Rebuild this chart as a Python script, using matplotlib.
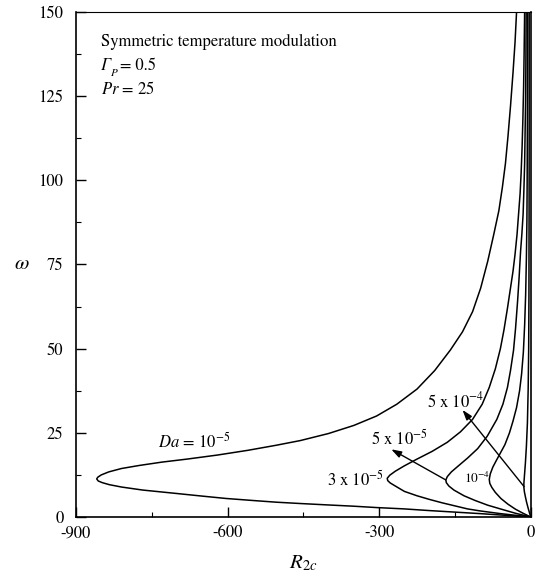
import matplotlib
matplotlib.use("Agg")
import matplotlib.pyplot as plt
from matplotlib.ticker import MultipleLocator

plt.rcParams['font.family'] = ['STIXGeneral', 'DejaVu Serif']
plt.rcParams['mathtext.fontset'] = 'stix'

# Da = 1e-5
R_da1 = [-28, -31, -35, -40, -45, -50, -56, -63, -73, -85, -99, -115, -135, -159, -190,
         -225, -265, -305, -350, -400, -456, -504, -560, -620, -680, -730, -775, -810,
         -835, -850, -857, -859, -856, -848, -834, -810, -768, -702, -650, -603, -550,
         -504, -456, -404, -350, -305, -250, -200, -150, -100, -50, 0]
w_da1 = [150, 141, 132, 122, 113, 105, 98, 91, 84, 76, 68, 61, 55, 49.6, 43.5,
         38, 33.5, 30, 27.2, 24.8, 22.7, 21.3, 19.8, 18.4, 17.2, 16.3, 15.3, 14.4,
         13.4, 12.5, 11.8, 11.3, 10.7, 10.2, 9.6, 8.9, 8.0, 7.0, 6.2, 5.5, 4.9,
         4.4, 4.0, 3.6, 3.2, 2.8, 2.4, 1.9, 1.45, 1.0, 0.5, 0]
# Da = 3e-5
R_da3 = [-12, -13, -14, -15.5, -17, -19, -21, -24, -27, -31, -35, -40, -46, -53, -60,
         -70, -82, -96, -115, -139, -165, -195, -225, -250, -268, -279, -284, -283,
         -278, -268, -250, -225, -200, -175, -150, -125, -100, -60, -30, 0]
w_da3 = [150, 138, 128, 118, 110, 102, 96, 90, 84, 78, 73, 68, 62, 55.5, 50,
         44, 38.5, 33.5, 29, 25.3, 22.2, 19.5, 17.2, 15.2, 13.6, 12.4, 11.5, 10.8,
         10.1, 9.2, 7.6, 6.3, 5.2, 4.2, 3.3, 2.4, 1.8, 1.0, 0.5, 0]
# Da = 5e-5
R_da5 = [-9, -9.5, -10, -11, -12, -13.5, -15, -17.5, -20, -23, -26, -30, -34, -40, -46,
         -55, -67, -86, -105, -125, -143, -157, -165, -168, -167, -162, -152, -132,
         -110, -85, -60, -30, 0]
w_da5 = [150, 135, 125, 115, 105, 97, 90, 84, 79, 71, 64, 56, 49.5, 43.5, 38.5,
         33.5, 29, 24, 20.3, 17.5, 15.2, 13.4, 12, 11, 10.2, 9.2, 8.0, 6.3,
         4.9, 3.5, 2.4, 1.1, 0]
# Da = 1e-4
R_da10 = [-6, -6.3, -6.6, -7, -7.5, -8.5, -10, -12, -14.5, -18, -22, -28, -35, -42, -51,
          -60, -68, -75, -80, -82, -81, -77, -70, -59, -45, -30, -15, 0]
w_da10 = [150, 130, 115, 100, 88, 77, 66, 57, 49, 42.5, 37.5, 32.5, 28.5, 25, 21.5,
          19, 16.8, 14.8, 12.8, 11.2, 10.0, 8.8, 7.3, 5.5, 3.8, 2.3, 1.1, 0]
# Da = 5e-4
R_da50 = [-3, -3, -3.2, -3.5, -4, -5, -6.5, -8.5, -10.5, -12.5, -13.5, -13.5, -12.5,
          -10.5, -8, -5, -2.5, 0]
w_da50 = [150, 120, 90, 65, 50, 38, 28, 21, 16, 12, 10, 8.8, 7.5,
          6.0, 4.3, 2.6, 1.3, 0]

x_ticks = [-900, -600, -300, 0]
y_ticks = [0, 25, 50, 75, 100, 125, 150]

fig = plt.figure(figsize=(5.39, 5.82), dpi=100)
ax = fig.add_axes([0.141, 0.1117, 0.8436, 0.8677])

for R, w in [(R_da1, w_da1), (R_da3, w_da3), (R_da5, w_da5), (R_da10, w_da10), (R_da50, w_da50)]:
    ax.plot(R, w, color='black', lw=1.1, solid_joinstyle='round', solid_capstyle='round')

ax.set_xlim(-900, 0)
ax.set_ylim(0, 150)
ax.set_xticks(x_ticks)
ax.set_xticklabels([str(t) for t in x_ticks])
ax.set_yticks(y_ticks)
ax.set_yticklabels([str(t) for t in y_ticks])
ax.xaxis.set_minor_locator(MultipleLocator(150))
ax.yaxis.set_minor_locator(MultipleLocator(12.5))
ax.tick_params(axis='both', which='major', direction='in', length=7, width=1.0,
               labelsize=12, top=False, right=False)
ax.tick_params(axis='both', which='minor', direction='in', length=3.5, width=0.8,
               top=False, right=False)
ax.tick_params(axis='y', pad=9)
ax.tick_params(axis='x', pad=6)
for s in ax.spines.values():
    s.set_linewidth(1.2)
ax.spines['top'].set_linewidth(0.8)

ax.set_xlabel(r'$R_{2c}$', fontsize=15, labelpad=9)
ax.set_ylabel(r'$\omega$', fontsize=15, rotation=0, va='center', ha='center')
ax.yaxis.set_label_coords(-0.119, 0.5)

ax.text(-850, 141, 'Symmetric temperature modulation', fontsize=12, va='center')
g = ax.text(-850, 134, 'Γ', fontsize=12, va='center', style='italic')
ax.annotate('P', xy=(1, 0), xycoords=g, xytext=(-0.5, -2.5), textcoords='offset points',
            fontsize=8, style='italic', va='bottom', ha='left')
ax.annotate('= 0.5', xy=(1, 0), xycoords=g, xytext=(6.5, 0), textcoords='offset points',
            fontsize=12, va='bottom', ha='left')
ax.text(-850, 127, r'$Pr$ = 25', fontsize=12, va='center')

ax.text(-738, 22.3, r'$Da$ = 10$^{-5}$', fontsize=12, va='center')
ax.text(-206, 34.2, r'5 x 10$^{-4}$', fontsize=12, va='center')
ax.text(-317, 23.2, r'5 x 10$^{-5}$', fontsize=12, va='center')
ax.text(-403, 11.2, r'3 x 10$^{-5}$', fontsize=12, va='center')
ax.text(-133, 11.3, r'10$^{-4}$', fontsize=9.5, va='center')

arrow = dict(arrowstyle='-|>,head_length=0.6,head_width=0.2', color='black', lw=1.0,
             shrinkA=0, shrinkB=0)
ax.annotate('', xy=(-135, 31.8), xytext=(-13, 9), arrowprops=arrow)
ax.annotate('', xy=(-276, 20.1), xytext=(-168, 11), arrowprops=arrow)

fig.savefig('out.png', dpi=100)
